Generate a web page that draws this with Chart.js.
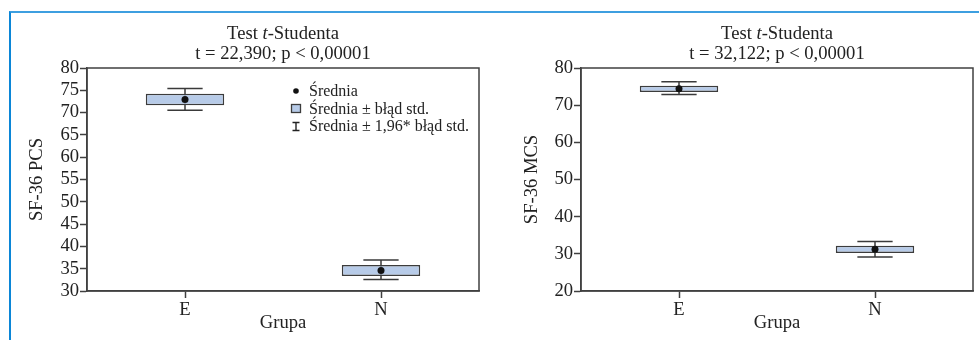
<!DOCTYPE html>
<html>
<head>
<meta charset="utf-8">
<script src="https://cdn.jsdelivr.net/npm/chart.js@4/dist/chart.umd.min.js"></script>
<style>
  html, body { margin: 0; padding: 0; background: #fff; }
  body { width: 979px; height: 340px; position: relative; overflow: hidden; font-family: 'Liberation Serif', 'Times New Roman', serif; color: #222; }
  .frame { position: absolute; left: 9px; top: 11px; width: 975px; height: 340px; border-top: 2px solid #3d9fe0; border-left: 2px solid #0b86d7; box-sizing: border-box; }
  .wrap { position: absolute; top: 0; height: 340px; }
  .title { position: absolute; width: 400px; text-align: center; font-size: 18.6px; line-height: 20px; }
  .legend { position: absolute; font-size: 16px; line-height: 17.5px; }
  .legend div { position: relative; padding-left: 0; white-space: nowrap; }
  .legend svg { position: absolute; left: -20px; top: 0; }
</style>
</head>
<body>
<div class="frame"></div>
<div class="wrap" style="left:0;width:490px;"><canvas id="c1"></canvas></div>
<div class="wrap" style="left:490px;width:489px;"><canvas id="c2"></canvas></div>
<div class="title" style="left:83px;top:23px;">Test <i>t</i>-Studenta<br>t = 22,390; p &lt; 0,00001</div>
<div class="title" style="left:577px;top:23px;">Test <i>t</i>-Studenta<br>t = 32,122; p &lt; 0,00001</div>
<div class="legend" style="left:309px;top:82px;">
  <div><svg width="14" height="18"><circle cx="7" cy="9" r="2.8" fill="#111"/></svg>Średnia</div>
  <div><svg width="14" height="18"><rect x="2.5" y="4.5" width="9" height="8" fill="#b7cbe8" stroke="#3c3c3c" stroke-width="1.3"/></svg>Średnia ± błąd std.</div>
  <div><svg width="14" height="18"><path d="M3.5 5.5H10.5M7 5.5V13.5M3.5 13.5H10.5" stroke="#222" stroke-width="1.4" fill="none"/></svg>Średnia ± 1,96* błąd std.</div>
</div>
<script>
// ---- data ----
const categories = ['E', 'N'];

const pcsMean   = [72.95, 34.6];
const pcsSeLow  = [71.65, 33.35];
const pcsSeHigh = [74.25, 35.85];
const pcsCiLow  = [70.55, 32.6];
const pcsCiHigh = [75.4, 36.95];
const pcsTicks  = { min: 30, max: 80, step: 5 };

const mcsMean   = [74.4, 31.2];
const mcsSeLow  = [73.55, 30.25];
const mcsSeHigh = [75.25, 32.15];
const mcsCiLow  = [72.85, 29.15];
const mcsCiHigh = [76.3, 33.3];
const mcsTicks  = { min: 20, max: 80, step: 10 };

const axisColor = '#404040';
const serif = "'Liberation Serif', 'Times New Roman', serif";
const fontSize = 18.6;

const errorBarPlugin = {
  id: 'errorBars',
  beforeDatasetsDraw(chart, args, opts) {
    const ctx = chart.ctx;
    const xs = chart.scales.x, ys = chart.scales.y;
    const meta = chart.getDatasetMeta(0);
    ctx.save();
    ctx.strokeStyle = '#3a3a3a';
    ctx.lineWidth = 1.5;
    opts.low.forEach((lo, i) => {
      const x = xs.getPixelForValue(i);
      const yLo = ys.getPixelForValue(lo);
      const yHi = ys.getPixelForValue(opts.high[i]);
      const hw = meta.data[i].width * 0.225;
      ctx.beginPath();
      ctx.moveTo(x, yLo); ctx.lineTo(x, yHi);
      ctx.moveTo(x - hw, yLo); ctx.lineTo(x + hw, yLo);
      ctx.moveTo(x - hw, yHi); ctx.lineTo(x + hw, yHi);
      ctx.stroke();
    });
    ctx.restore();
  }
};

const framePlugin = {
  id: 'frame',
  afterDraw(chart) {
    const a = chart.chartArea, ctx = chart.ctx;
    ctx.save();
    ctx.strokeStyle = axisColor;
    ctx.lineWidth = 1.5;
    ctx.strokeRect(a.left, a.top, a.right - a.left, a.bottom - a.top);
    ctx.restore();
  }
};

function makeChart(id, yTitle, mean, seLow, seHigh, ciLow, ciHigh, t, pad, yWidth) {
  return new Chart(document.getElementById(id), {
    type: 'bar',
    data: {
      labels: categories,
      datasets: [
        {
          label: 'Średnia ± błąd std.',
          data: seLow.map((v, i) => [v, seHigh[i]]),
          backgroundColor: '#b7cbe8',
          borderColor: '#3c3c3c',
          borderWidth: 1.5,
          borderSkipped: false,
          barPercentage: 0.4,
          categoryPercentage: 1,
          order: 2
        },
        {
          type: 'line',
          label: 'Średnia',
          data: mean,
          showLine: false,
          pointRadius: 3.5,
          pointBackgroundColor: '#111',
          pointBorderColor: '#111',
          pointBorderWidth: 0,
          order: 1
        }
      ]
    },
    options: {
      responsive: true,
      maintainAspectRatio: false,
      animation: false,
      layout: { padding: pad },
      plugins: {
        legend: { display: false },
        tooltip: { enabled: false },
        errorBars: { low: ciLow, high: ciHigh }
      },
      scales: {
        x: {
          offset: true,
          grid: { display: true, drawOnChartArea: false, offset: false, tickLength: 7, color: axisColor, tickWidth: 1.5 },
          border: { display: true, color: axisColor, width: 1.5 },
          ticks: { color: '#222', padding: 1, font: { family: serif, size: fontSize } },
          title: { display: true, text: 'Grupa', color: '#222', padding: 0, font: { family: serif, size: fontSize } },
          afterFit(s) { s.height = 43; }
        },
        y: {
          min: t.min, max: t.max,
          grid: { display: true, drawOnChartArea: false, tickLength: 7, color: axisColor, tickWidth: 1.5 },
          border: { display: true, color: axisColor, width: 1.5 },
          ticks: { stepSize: t.step, autoSkip: false, color: '#222', padding: 1, font: { family: serif, size: fontSize } },
          title: { display: true, text: yTitle, color: '#222', padding: 0, font: { family: serif, size: fontSize } },
          afterFit(s) { s.width = yWidth; }
        }
      }
    },
    plugins: [errorBarPlugin, framePlugin]
  });
}

makeChart('c1', 'SF-36 PCS', pcsMean, pcsSeLow, pcsSeHigh, pcsCiLow, pcsCiHigh, pcsTicks,
  { left: 26, right: 11, top: 68, bottom: 6 }, 61);
makeChart('c2', 'SF-36 MCS', mcsMean, mcsSeLow, mcsSeHigh, mcsCiLow, mcsCiHigh, mcsTicks,
  { left: 31, right: 6, top: 68, bottom: 6 }, 60);
</script>
</body>
</html>
